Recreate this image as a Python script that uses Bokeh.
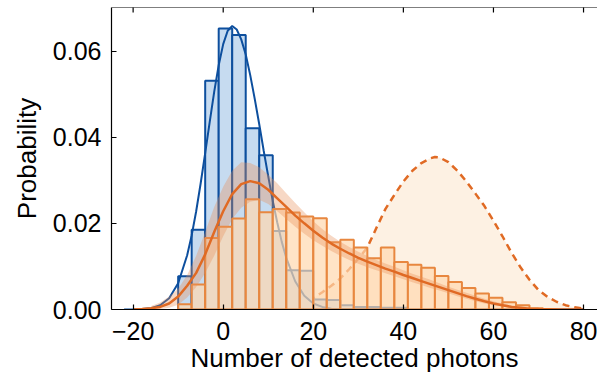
import math
from bokeh.plotting import figure
from bokeh.models import FixedTicker, Range1d, Span
from bokeh.embed import file_html
from bokeh.resources import INLINE

# ---------------- data ----------------
bin_width = 3
blue_bin_left = [-10, -7, -4, -1, 2, 5, 8, 11, 14, 17, 20, 23, 26, 29, 32, 35, 38]
blue_prob = [0.0077, 0.0185, 0.0531, 0.0652, 0.0637, 0.0421, 0.0358, 0.0182,
             0.0091, 0.0090, 0.0023, 0.0022, 0.0010, 0.0006, 0.0006, 0.0004, 0.0004]

orange_bin_left = [-10, -7, -4, -1, 2, 5, 8, 11, 14, 17, 20, 23, 26, 29, 32, 35,
                   38, 41, 44, 47, 50, 53, 56, 59, 62, 65, 68]
orange_prob = [0.0012, 0.0058, 0.0166, 0.0192, 0.0211, 0.0256, 0.0226, 0.0233,
               0.0225, 0.0216, 0.0212, 0.0156, 0.0162, 0.0144, 0.0119, 0.0144,
               0.0110, 0.0104, 0.0097, 0.0078, 0.0064, 0.0050, 0.0037, 0.0027,
               0.0017, 0.0010, 0.0003]

blue_curve_x = [-22, -20, -18, -16, -14, -12, -10, -8, -7, -6, -5, -4, -3, -2, -1, 0,
                1, 2, 3, 4, 5, 6, 7, 8, 9, 10, 11, 12, 13, 14, 16, 18, 20, 22, 24,
                26, 30, 80]
blue_curve_y = [0.0, 0.00002, 0.0001, 0.0003, 0.0010, 0.0026, 0.0061, 0.0126, 0.0172,
                0.0228, 0.0293, 0.0363, 0.0435, 0.0505, 0.0567, 0.0616, 0.0647,
                0.0658, 0.0650, 0.0627, 0.0592, 0.0544, 0.0489, 0.0430, 0.0368,
                0.0309, 0.0252, 0.0202, 0.0157, 0.0120, 0.0065, 0.0032, 0.0014,
                0.0006, 0.0002, 0.0001, 0.0, 0.0]

orange_curve_x = [-20, -18, -16, -14, -12, -10, -8, -6, -4, -2, 0, 2, 4, 6, 8, 10,
                  12, 14, 16, 18, 20, 22, 24, 26, 28, 30, 32, 34, 36, 38, 40, 42,
                  44, 46, 48, 50, 52, 54, 56, 58, 60, 62, 64, 66, 68, 70, 75, 80]
orange_curve_y = [0.0, 0.0001, 0.0003, 0.0006, 0.0014, 0.0030, 0.0055, 0.0085,
                  0.0128, 0.0180, 0.0228, 0.0268, 0.0291, 0.0298, 0.0293, 0.0278,
                  0.0258, 0.0238, 0.0218, 0.0200, 0.0183, 0.0167, 0.0153, 0.0141,
                  0.0130, 0.0120, 0.0111, 0.0103, 0.0095, 0.0088, 0.0080, 0.0073,
                  0.0066, 0.0059, 0.0052, 0.0045, 0.0038, 0.0031, 0.0025, 0.0019,
                  0.0014, 0.0010, 0.0006, 0.0004, 0.0002, 0.0001, 0.0, 0.0]

band_x = [-16, -14, -12, -10, -8, -6, -4, -2, 0, 2, 4, 6, 8, 10, 12, 14, 16, 18,
          20, 22, 24, 26, 28, 30, 32, 34, 36, 38, 40, 42, 44, 46, 48, 50, 52, 54,
          56, 58, 60, 62, 64, 66, 68, 70, 72]
band_upper = [0.0008, 0.0016, 0.0030, 0.0048, 0.0080, 0.0125, 0.0180, 0.0238,
              0.0285, 0.0322, 0.0342, 0.0340, 0.0330, 0.0313, 0.0293, 0.0270,
              0.0247, 0.0226, 0.0205, 0.0187, 0.0171, 0.0157, 0.0145, 0.0134,
              0.0124, 0.0115, 0.0107, 0.0099, 0.0091, 0.0083, 0.0076, 0.0069,
              0.0061, 0.0053, 0.0046, 0.0039, 0.0032, 0.0025, 0.0019, 0.0014,
              0.0010, 0.0007, 0.0004, 0.0002, 0.0001]
band_lower = [0.0, 0.0001, 0.0004, 0.0011, 0.0028, 0.0052, 0.0085, 0.0125,
              0.0170, 0.0210, 0.0236, 0.0250, 0.0255, 0.0245, 0.0228, 0.0210,
              0.0192, 0.0176, 0.0161, 0.0148, 0.0136, 0.0125, 0.0115, 0.0106,
              0.0098, 0.0091, 0.0084, 0.0077, 0.0070, 0.0063, 0.0057, 0.0050,
              0.0044, 0.0038, 0.0031, 0.0025, 0.0019, 0.0014, 0.0010, 0.0007,
              0.0004, 0.0002, 0.0001, 0.0, 0.0]

dash_x = [14, 16, 18, 20, 22, 24, 26, 28, 30, 32, 34, 36, 38, 40, 42, 44, 46, 47,
          48, 50, 52, 54, 56, 58, 60, 62, 64, 66, 68, 70, 72, 74, 76, 78, 80]
dash_y = [0.0001, 0.0006, 0.0014, 0.0026, 0.0040, 0.0055, 0.0072, 0.0094, 0.0118,
          0.0144, 0.0189, 0.0233, 0.0266, 0.0297, 0.0322, 0.0340, 0.0351, 0.0354,
          0.0353, 0.0342, 0.0322, 0.0297, 0.0269, 0.0240, 0.0206, 0.0170, 0.0132,
          0.0098, 0.0069, 0.0045, 0.0029, 0.0018, 0.0010, 0.0005, 0.0002]

x_ticks = [-20, 0, 20, 40, 60, 80]
x_tick_labels = ["\u221220", "0", "20", "40", "60", "80"]
y_ticks = [0.0, 0.02, 0.04, 0.06]
y_tick_labels = ["0.00", "0.02", "0.04", "0.06"]

x_start, x_end = -24.8, 83.1
y_start, y_end = 0.0, 0.0701

# ---------------- styling ----------------
FONT = "Liberation Sans"
BLUE = "#0d4f9e"
BLUE_FILL = "#c6dbf0"
ORANGE = "#e06a24"
BAR_EDGE = "#e8873f"
BAR_FILL = "#ffd9af"
BAND = "#e8905a"
DASH_FILL = "#fdf1e3"

p = figure(width=597, height=381, output_backend="svg", toolbar_location=None,
           x_range=Range1d(x_start, x_end), y_range=Range1d(y_start, y_end))
p.min_border_left = 111
p.min_border_right = 0
p.min_border_top = 7
p.min_border_bottom = 72
p.outline_line_color = None
p.grid.visible = False
p.background_fill_color = "white"
p.border_fill_color = "white"

# dashed curve fill and line
p.varea(x=dash_x, y1=0, y2=dash_y, fill_color=DASH_FILL, fill_alpha=1.0)
p.line(dash_x, dash_y, line_color=ORANGE, line_width=2.5, line_dash="7 5")

# blue histogram
blue_centers = [b + bin_width / 2 for b in blue_bin_left]
p.vbar(x=blue_centers, width=bin_width, top=blue_prob, bottom=0,
       fill_color=BLUE_FILL, line_color=BLUE, line_width=2)
p.line(blue_curve_x, blue_curve_y, line_color=BLUE, line_width=2)

# orange histogram
orange_centers = [b + bin_width / 2 for b in orange_bin_left]
p.vbar(x=orange_centers, width=bin_width, top=orange_prob, bottom=0,
       fill_color=BAR_FILL, fill_alpha=0.7, line_color=BAR_EDGE, line_width=2)

# band and curve
p.varea(x=band_x, y1=band_lower, y2=band_upper, fill_color=BAND, fill_alpha=0.35)
p.line(orange_curve_x, orange_curve_y, line_color=ORANGE, line_width=2.5)

# top spine with inward ticks (no labels)
p.add_layout(Span(location=y_end, dimension="width", line_color="black",
                  line_width=1.2))
p.scatter(x=x_ticks, y=[y_end] * len(x_ticks), marker="dash", angle=math.pi / 2,
          size=10, line_color="black", line_width=1.2)

# ---------------- axes ----------------
def style_axis(ax):
    ax.axis_line_color = "black"
    ax.axis_line_width = 1.2
    ax.major_tick_line_color = "black"
    ax.major_tick_line_width = 1.2
    ax.major_tick_in = 5
    ax.major_tick_out = 0
    ax.minor_tick_in = 0
    ax.minor_tick_out = 0
    ax.major_label_text_font = FONT
    ax.major_label_text_font_size = "25px"
    ax.major_label_text_color = "black"
    ax.axis_label_text_font = FONT
    ax.axis_label_text_font_size = "26px"
    ax.axis_label_text_font_style = "normal"
    ax.axis_label_text_color = "black"

xa = p.xaxis[0]
xa.ticker = FixedTicker(ticks=x_ticks)
xa.major_label_overrides = dict(zip(x_ticks, x_tick_labels))
xa.axis_label = "Number of detected photons"
style_axis(xa)
xa.major_label_standoff = 12
xa.axis_label_standoff = 0

ya = p.yaxis[0]
ya.ticker = FixedTicker(ticks=y_ticks)
ya.major_label_overrides = dict(zip(y_ticks, y_tick_labels))
ya.axis_label = "Probability"
style_axis(ya)
ya.major_label_standoff = 10
ya.axis_label_standoff = 8

open("out.html", "w").write(file_html(p, INLINE))
